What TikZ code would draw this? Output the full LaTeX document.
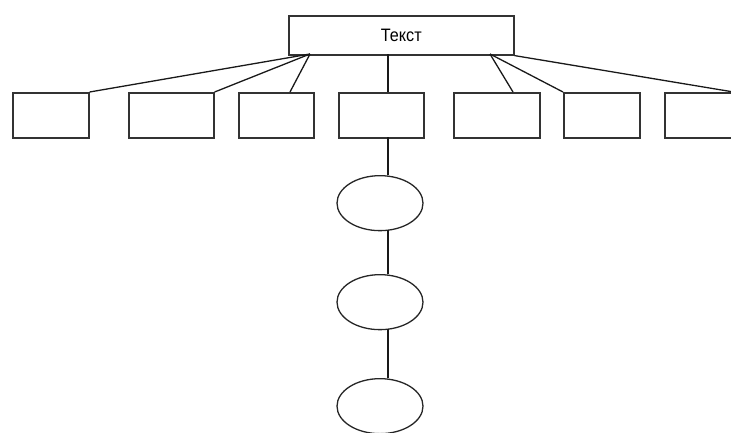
\documentclass[tikz,border=0pt]{standalone}
\usepackage{fontspec}
\setmainfont{Liberation Sans}
\usetikzlibrary{shapes.geometric}
\begin{document}
\begin{tikzpicture}[x=1pt,y=-1pt,
  box/.style={draw=black!80, line width=1.6pt, minimum width=#1, minimum height=45pt, inner sep=0pt, anchor=north west},
  oval/.style={draw=black!85, line width=1.3pt, ellipse, minimum width=86pt, minimum height=55pt, inner sep=0pt, anchor=north},
  conn/.style={draw=black!90, line width=1.3pt}]
\useasboundingbox (0,0) rectangle (731,432);
\node[draw=black!80, line width=1.6pt, minimum width=225pt, minimum height=39pt, inner sep=0pt, anchor=north west, font=\fontsize{18}{20}\selectfont] (top) at (288,15) {\scalebox{0.9}[1]{Текст}};
\node[box=76pt] (b1) at (12,92) {};
\node[box=85pt] (b2) at (128,92) {};
\node[box=75pt] (b3) at (238,92) {};
\node[box=85pt] (b4) at (338,92) {};
\node[box=86pt] (b5) at (453,92) {};
\node[box=76pt] (b6) at (563,92) {};
\node[box=68pt] (b7) at (664,92) {};
\node[oval] (e1) at (380,175) {};
\node[oval] (e2) at (380,274) {};
\node[oval] (e3) at (380,378) {};
\coordinate (tl) at (310,54);
\coordinate (tr) at (490,54);
\coordinate (tm) at (388,54);
\coordinate (b3c) at (290,92);
\coordinate (b4t) at (388,92);
\coordinate (b4b) at (388,137);
\coordinate (b5c) at (513,92);
\coordinate (e1t) at (388,175);
\coordinate (e1b) at (388,230);
\coordinate (e2t) at (388,274);
\coordinate (e2b) at (388,329);
\coordinate (e3t) at (388,378);
\draw[conn] (b1.north east) -- (tl);
\draw[conn] (b2.north east) -- (tl);
\draw[conn] (b3c) -- (tl);
\draw[conn] (b4t) -- (tm);
\draw[conn] (b5c) -- (tr);
\draw[conn] (b6.north west) -- (tr);
\draw[conn] (b7.north east) -- (top.south east);
\draw[conn] (b4b) -- (e1t);
\draw[conn] (e1b) -- (e2t);
\draw[conn] (e2b) -- (e3t);
\end{tikzpicture}
\end{document}
